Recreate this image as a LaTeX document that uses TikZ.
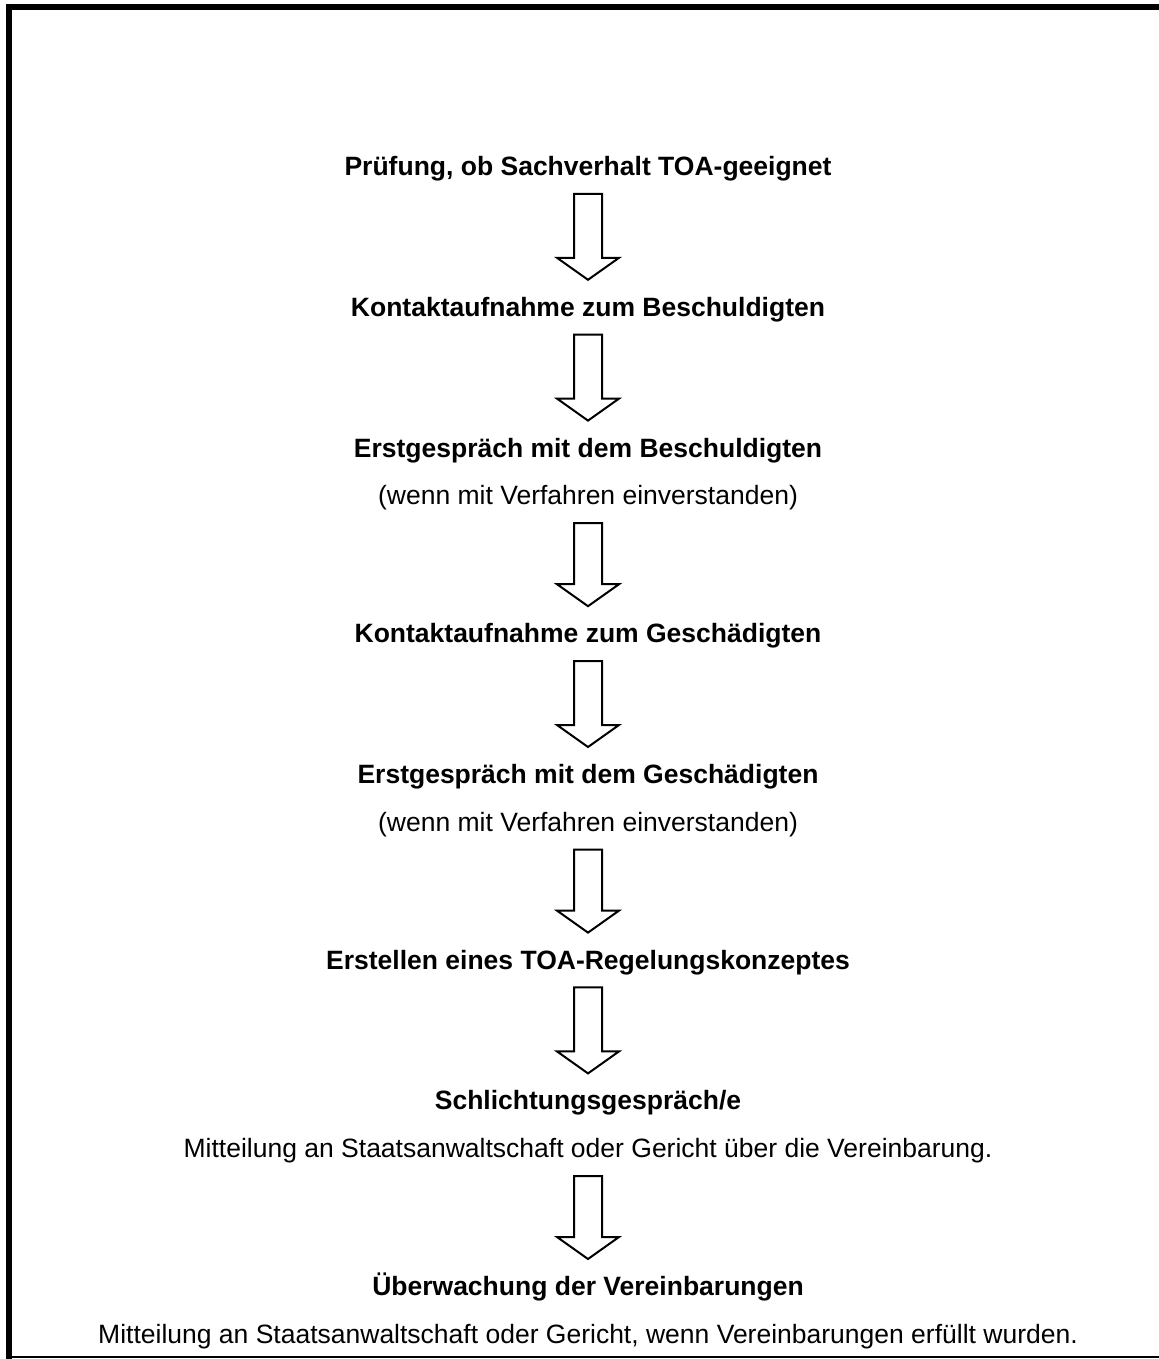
\documentclass[tikz,border=0pt]{standalone}
\usepackage{fontspec}
\setmainfont{Liberation Sans}
\usetikzlibrary{positioning,calc}

\begin{document}
\begin{tikzpicture}[
  node distance=60.5pt,
  stage/.style={inner sep=0pt,text height=9.5pt,text depth=0pt,font=\fontsize{13.25pt}{16pt}\selectfont\bfseries},
  note/.style={stage,font=\fontsize{13.25pt}{16pt}\selectfont},
  blockarrow/.style={line width=1pt,to path={
    let \p1=($(\tikztostart.south)+(0,-9pt)$), \p2=($(\tikztotarget.north)+(0,8.5pt)$) in
    (\x1-7pt,\y1) -- (\x1+7pt,\y1) -- (\x1+7pt,\y2+11pt) -- (\x1+15.5pt,\y2+11pt)
    -- (\x1,\y2) -- (\x1-15.5pt,\y2+11pt) -- (\x1-7pt,\y2+11pt) -- cycle}}
]
  \useasboundingbox (0,0) rectangle (579.5pt,-679.5pt);
  % frame
  \draw[line width=3pt] (579.5pt,-3.5pt) -- (4.5pt,-3.5pt) -- (4.5pt,-679.5pt);
  \draw[line width=1pt] (4.5pt,-678.5pt) -- (579.5pt,-678.5pt);

  \node[stage, anchor=north] (pruef) at (294pt,-78pt) {Prüfung, ob Sachverhalt TOA-geeignet};
  \node[stage, below=of pruef] (kontaktb) {Kontaktaufnahme zum Beschuldigten};
  \node[stage, below=of kontaktb] (erstb) {Erstgespräch mit dem Beschuldigten};
  \node[note, below=14pt of erstb] (einvb) {(wenn mit Verfahren einverstanden)};
  \node[stage, below=59pt of einvb] (kontaktg) {Kontaktaufnahme zum Geschädigten};
  \node[stage, below=of kontaktg] (erstg) {Erstgespräch mit dem Geschädigten};
  \node[note, below=14pt of erstg] (einvg) {(wenn mit Verfahren einverstanden)};
  \node[stage, below=59pt of einvg] (konzept) {Erstellen eines TOA-Regelungskonzeptes};
  \node[stage, below=of konzept] (schlicht) {Schlichtungsgespräch/e};
  \node[note, below=14pt of schlicht] (mitteil) {Mitteilung an Staatsanwaltschaft oder Gericht über die Vereinbarung.};
  \node[stage, below=59pt of mitteil] (ueberw) {Überwachung der Vereinbarungen};
  \node[note, below=14pt of ueberw] (erfuellt) {Mitteilung an Staatsanwaltschaft oder Gericht, wenn Vereinbarungen erfüllt wurden.};

  \draw[blockarrow] (pruef) to (kontaktb);
  \draw[blockarrow] (kontaktb) to (erstb);
  \draw[blockarrow] (einvb) to (kontaktg);
  \draw[blockarrow] (kontaktg) to (erstg);
  \draw[blockarrow] (einvg) to (konzept);
  \draw[blockarrow] (konzept) to (schlicht);
  \draw[blockarrow] (mitteil) to (ueberw);
\end{tikzpicture}
\end{document}
